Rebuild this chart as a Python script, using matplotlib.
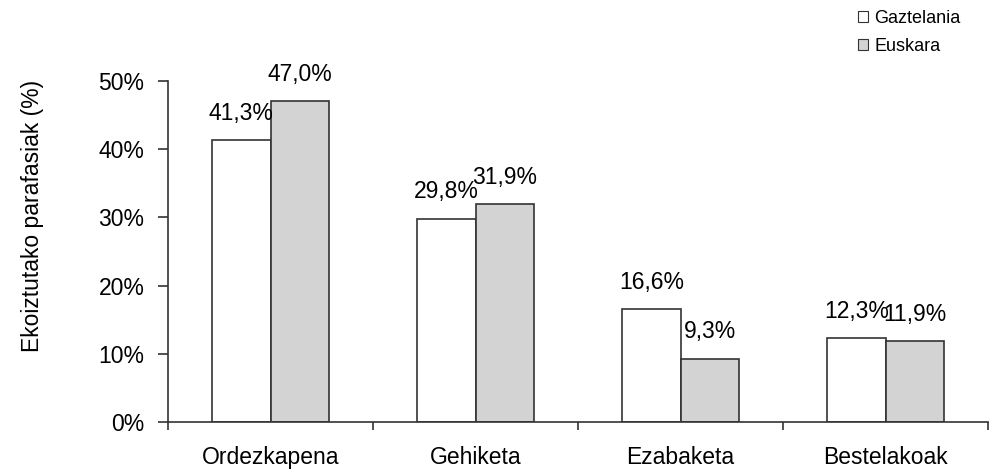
import matplotlib.pyplot as plt
import numpy as np

# paraphasia percentages per category
categories = ['Ordezkapena', 'Gehiketa', 'Ezabaketa', 'Bestelakoak']
gaztelania = [41.3, 29.8, 16.6, 12.3]
euskara = [47.0, 31.9, 9.3, 11.9]
series_names = ['Gaztelania', 'Euskara']
yticks = [0, 10, 20, 30, 40, 50]

plt.rcParams['font.family'] = ['Liberation Sans', 'DejaVu Sans']
fs = 16.5

fig = plt.figure(figsize=(9.91, 4.69), dpi=100)
ax = fig.add_axes([168/991, 1-422/469, 820/991, (422-81)/469])

x = np.arange(len(categories))
w = 0.285
b1 = ax.bar(x - w/2, gaztelania, w, color='white', edgecolor='#333333', linewidth=1.2)
b2 = ax.bar(x + w/2, euskara, w, color='#d3d3d3', edgecolor='#333333', linewidth=1.2)

def lab(v):
    return ('%.1f%%' % v).replace('.', ',')

for bars, vals in [(b1, gaztelania), (b2, euskara)]:
    for r, v in zip(bars, vals):
        ax.annotate(lab(v), (r.get_x() + r.get_width()/2, v), xytext=(0, 11),
                    textcoords='offset points', ha='center', va='bottom', fontsize=fs)

ax.set_xlim(-0.5, len(categories) - 0.5)
ax.set_ylim(0, 50)
ax.set_yticks(yticks)
ax.set_yticklabels(['%d%%' % t for t in yticks], fontsize=fs)
ax.set_xticks(x)
ax.set_xticklabels(categories, fontsize=fs)
ax.set_xticks(np.arange(len(categories) + 1) - 0.5, minor=True)
ax.tick_params(axis='x', which='major', length=0, pad=17)
ax.tick_params(axis='x', which='minor', length=5.5, width=1.2, direction='out', color='#333333')
ax.tick_params(axis='y', length=7, width=1.2, color='#333333', pad=10)
for s in ['top', 'right']:
    ax.spines[s].set_visible(False)
for s in ['left', 'bottom']:
    ax.spines[s].set_linewidth(1.2)
    ax.spines[s].set_color('#333333')

ax.set_ylabel('Ekoiztutako parafasiak (%)', fontsize=fs)
ax.yaxis.set_label_coords(-0.151, 0.604)

leg = fig.legend([b1, b2], series_names, loc='upper left', bbox_to_anchor=(842/991, 1.013),
                 frameon=False, fontsize=13, handlelength=0.55, handleheight=0.55,
                 handletextpad=0.35, labelspacing=0.6)
for h in leg.legend_handles:
    h.set_linewidth(0.8)

fig.savefig('out.png', dpi=100)
